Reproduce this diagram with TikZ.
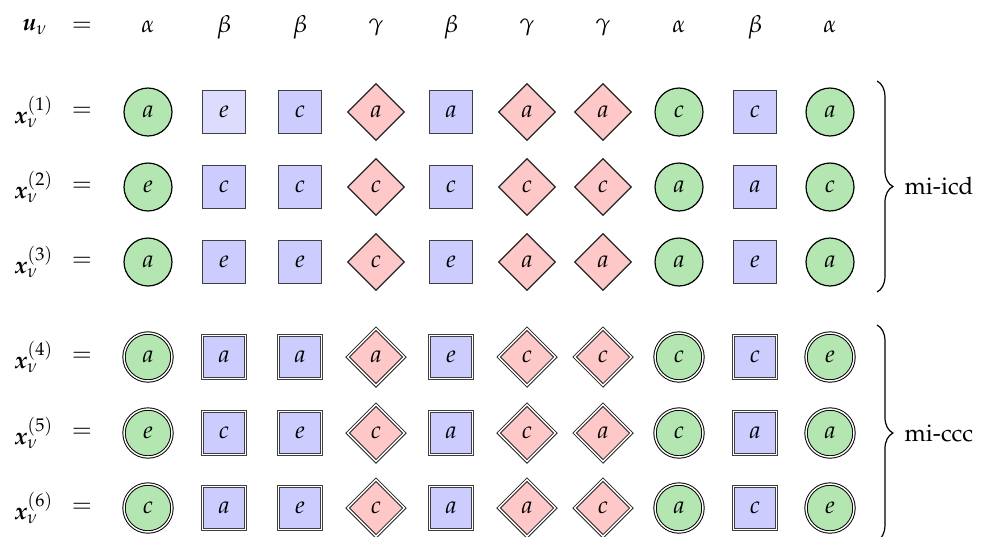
\documentclass[tikz,border=0pt]{standalone}
\usepackage[T1]{fontenc}
\usepackage{mathpazo}
\usepackage{bm}
\usetikzlibrary{shapes.geometric,decorations.pathreplacing}
\definecolor{cgreen}{RGB}{180,230,178}
\definecolor{cblue}{RGB}{204,204,255}
\definecolor{cbluelight}{RGB}{220,220,255}
\definecolor{cred}{RGB}{255,200,200}
\tikzset{
  base/.style={inner sep=0pt, line width=0.5pt},
  txt/.style={inner sep=0.5pt},
  circ/.style={base,circle,draw=black,fill=cgreen,minimum size=19.9pt},
  sq/.style={base,rectangle,draw=black!75,fill=cblue,minimum size=17.8pt},
  dia/.style={base,diamond,draw=black!85,fill=cred,minimum size=23.7pt},
  single/.style={},
  dbl/.style={double=white,double distance=0.6pt,line width=0.4pt},
  cell 1-2/.style={fill=cbluelight},
  bracestyle/.style={decorate,decoration={brace,amplitude=6.6pt},line width=0.5pt},
}
\begin{document}
\begin{tikzpicture}[x=0.415pt,y=-0.415pt]
\useasboundingbox (0,0) rectangle (983,536);
\def\xlist{{148,224,300,376,451,527,603,679,755,830}}
\def\tlist{{"circ","sq","sq","dia","sq","dia","dia","circ","sq","circ"}}
\node[txt] (u) at (35,27) {$\bm{u}_\nu$};
\node[txt] (ueq) at (82,27) {$=$};
\foreach \g [count=\kk] in {\alpha,\beta,\beta,\gamma,\beta,\gamma,\gamma,\alpha,\beta,\alpha}{
  \pgfmathsetmacro\xx{\xlist[\kk-1]}
  \node[txt] (h\kk) at (\xx,27) {$\g$};
}
\foreach \r/\y/\L/\dd in {1/112/{a,e,c,a,a,a,a,c,c,a}/single,
                          2/187/{e,c,c,c,c,c,c,a,a,c}/single,
                          3/262/{a,e,e,c,e,a,a,a,e,a}/single,
                          4/357/{a,a,a,a,e,c,c,c,c,e}/dbl,
                          5/433/{e,c,e,c,a,c,a,c,a,a}/dbl,
                          6/508/{c,a,e,c,a,a,c,a,c,e}/dbl}{
  \node[txt] (x\r) at (34,\y) {$\bm{x}_\nu^{(\r)}$};
  \node[txt] (eq\r) at (82,\y) {$=$};
  \foreach \lt [count=\kk] in \L {
    \pgfmathsetmacro\xx{\xlist[\kk-1]}
    \pgfmathparse{\tlist[\kk-1]}\edef\ty{\pgfmathresult}
    \node[\ty,\dd,cell \r-\kk/.try] (n\r-\kk) at (\xx,\y) {$\lt$};
  }
}
\coordinate (b1t) at (877,81);
\coordinate (b1b) at (877,292);
\draw[bracestyle] (b1t) -- (b1b);
\node[txt,anchor=west] (l1) at (903,186) {mi-icd};
\coordinate (b2t) at (877,325);
\coordinate (b2b) at (877,541);
\draw[bracestyle] (b2t) -- (b2b);
\node[txt,anchor=west] (l2) at (903,433) {mi-ccc};
\end{tikzpicture}
\end{document}
